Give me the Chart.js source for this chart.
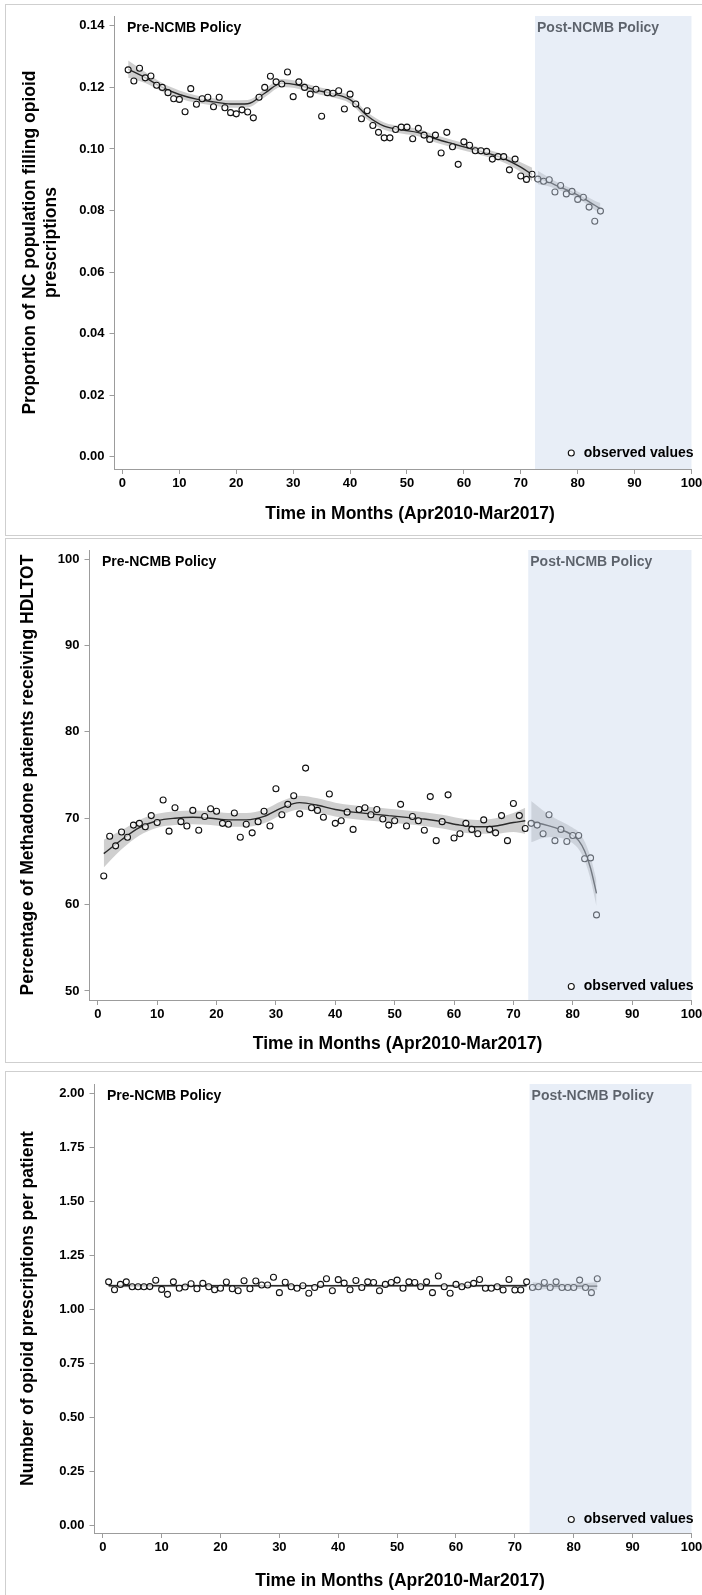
<!DOCTYPE html>
<html><head><meta charset="utf-8">
<script src="https://cdn.jsdelivr.net/npm/chart.js@4.4.1/dist/chart.umd.min.js"></script>
<style>
html,body{margin:0;padding:0;background:#fff;width:702px;height:1595px;overflow:hidden;}
canvas{position:absolute;left:0;}
.frame{position:absolute;left:5px;width:720px;border:1px solid #cfcfcf;pointer-events:none;}
</style></head><body>
<div class="frame" style="top:4px;height:530px"></div>
<div class="frame" style="top:538px;height:523px"></div>
<div class="frame" style="top:1071px;height:540px"></div>
<canvas id="c1" width="702" height="536" style="top:0;width:702px;height:536px"></canvas>
<canvas id="c2" width="702" height="530" style="top:536px;width:702px;height:530px"></canvas>
<canvas id="c3" width="702" height="529" style="top:1066px;width:702px;height:529px"></canvas>
<script>
// ---------- data ----------
const months = [1,2,3,4,5,6,7,8,9,10,11,12,13,14,15,16,17,18,19,20,21,22,23,24,25,26,27,28,29,30,
  31,32,33,34,35,36,37,38,39,40,41,42,43,44,45,46,47,48,49,50,51,52,53,54,55,56,57,58,59,60,
  61,62,63,64,65,66,67,68,69,70,71,72,73,74,75,76,77,78,79,80,81,82,83,84];

const propFilling = [0.1257,0.1221,0.1262,0.1231,0.1237,0.1207,0.1200,0.1183,0.1163,0.1161,
 0.1121,0.1196,0.1145,0.1163,0.1168,0.1137,0.1168,0.1134,0.1118,0.1114,
 0.1127,0.1120,0.1101,0.1168,0.1200,0.1236,0.1218,0.1211,0.1250,0.1170,
 0.1218,0.1200,0.1178,0.1194,0.1106,0.1183,0.1181,0.1189,0.1130,0.1178,
 0.1146,0.1098,0.1124,0.1076,0.1054,0.1036,0.1036,0.1063,0.1071,0.1071,
 0.1033,0.1067,0.1045,0.1031,0.1045,0.0987,0.1054,0.1007,0.0950,0.1023,
 0.1012,0.0994,0.0994,0.0992,0.0967,0.0975,0.0975,0.0932,0.0967,0.0912,
 0.0901,0.0918,0.0902,0.0895,0.0900,0.0860,0.0881,0.0854,0.0862,0.0836,
 0.0843,0.0811,0.0765,0.0798];

const pctHDLTOT = [63.3,67.9,66.8,68.4,67.8,69.2,69.4,69.0,70.3,69.5,
 72.1,68.5,71.2,69.6,69.1,70.9,68.6,70.2,71.1,70.8,
 69.4,69.3,70.6,67.8,69.3,68.3,69.6,70.8,69.1,73.4,
 70.4,71.6,72.6,70.5,75.8,71.2,70.9,70.1,72.8,69.4,
 69.7,70.7,68.7,71.0,71.2,70.4,71.0,69.9,69.2,69.7,
 71.6,69.1,70.2,69.7,68.6,72.5,67.4,69.6,72.7,67.7,
 68.2,69.4,68.7,68.2,69.8,68.7,68.3,70.3,67.4,71.7,
 70.3,68.8,69.4,69.2,68.2,70.4,67.4,68.7,67.3,68.0,
 68.0,65.3,65.4,58.8];

const rxPerPatient = [1.126,1.089,1.114,1.126,1.103,1.103,1.103,1.104,1.133,1.091,
 1.068,1.126,1.096,1.102,1.117,1.094,1.119,1.103,1.089,1.096,
 1.125,1.094,1.085,1.131,1.094,1.130,1.111,1.111,1.147,1.076,
 1.124,1.103,1.096,1.108,1.073,1.100,1.114,1.140,1.085,1.136,
 1.120,1.089,1.132,1.100,1.126,1.123,1.085,1.114,1.123,1.134,
 1.096,1.126,1.123,1.103,1.126,1.076,1.153,1.103,1.073,1.114,
 1.103,1.111,1.119,1.137,1.096,1.096,1.103,1.088,1.137,1.088,
 1.088,1.126,1.100,1.103,1.123,1.100,1.126,1.100,1.100,1.100,
 1.134,1.100,1.076,1.140];

// smoothed fit (loess) and confidence band, read at knot months
const preKnots = [1,4,7,10,13,16,19,22,25,28,31,34,37,40,43,46,49,52,55,58,61,64,67,70,72];

const propFitPre = [0.1259,0.1232,0.1200,0.1177,0.1162,0.1153,0.1146,0.1147,0.1181,0.1214,0.1207,0.1191,0.1179,0.1160,0.1108,0.1074,0.1062,0.1053,0.1033,0.1017,0.1002,0.0987,0.0969,0.0941,0.0917];
const propLoPre  = [0.1231,0.1214,0.1186,0.1164,0.1150,0.1141,0.1134,0.1135,0.1168,0.1201,0.1195,0.1179,0.1167,0.1148,0.1096,0.1062,0.1050,0.1041,0.1021,0.1005,0.0990,0.0975,0.0956,0.0925,0.0895];
const propHiPre  = [0.1287,0.1250,0.1214,0.1190,0.1174,0.1165,0.1158,0.1159,0.1194,0.1227,0.1219,0.1203,0.1191,0.1172,0.1120,0.1086,0.1074,0.1065,0.1045,0.1029,0.1014,0.0999,0.0982,0.0957,0.0939];
const propPostKnots = [73,75,77,79,81,83,84];
const propFitPost = [0.0907,0.0892,0.0875,0.0860,0.0840,0.0817,0.0806];
const propLoPost  = [0.0885,0.0878,0.0864,0.0849,0.0828,0.0802,0.0788];
const propHiPost  = [0.0929,0.0906,0.0886,0.0871,0.0852,0.0832,0.0824];

const pctFitPre = [65.9,67.5,68.9,69.7,70.0,70.1,70.0,69.8,69.8,70.2,71.2,71.8,71.5,71.0,70.7,70.5,70.3,70.1,69.9,69.6,69.2,69.0,69.1,69.5,69.7];
const pctLoPre  = [64.3,66.4,68.0,68.9,69.2,69.3,69.2,69.0,69.0,69.4,70.4,71.0,70.7,70.2,69.9,69.7,69.5,69.3,69.1,68.8,68.4,68.2,68.2,68.4,68.2];
const pctHiPre  = [67.5,68.6,69.8,70.5,70.8,70.9,70.8,70.6,70.6,71.0,72.0,72.6,72.3,71.8,71.5,71.3,71.1,70.9,70.7,70.4,70.0,69.8,70.0,70.6,71.2];
const pctPostKnots = [73,75,77,79,80,81,82,83,84];
const pctFitPost = [69.6,69.3,68.9,68.4,68.0,67.4,66.2,64.2,61.3];
const pctLoPost  = [67.2,67.7,67.8,67.5,67.1,66.4,65.1,62.9,59.8];
const pctHiPost  = [72.0,70.9,70.0,69.3,68.9,68.4,67.3,65.5,62.8];

const rxPreKnots = [1,36,72];
const rxFitPre = [1.108,1.108,1.108];
const rxLoPre  = [1.101,1.103,1.101];
const rxHiPre  = [1.115,1.113,1.115];
const rxPostKnots = [73,78,84];
const rxFitPost = [1.106,1.106,1.106];
const rxLoPost  = [1.088,1.095,1.088];
const rxHiPost  = [1.124,1.117,1.124];

// axis ticks
const xTicks = [0,10,20,30,40,50,60,70,80,90,100];
const propTicks = [0,0.02,0.04,0.06,0.08,0.10,0.12,0.14];
const pctTicks = [50,60,70,80,90,100];
const rxTicks = [0,0.25,0.5,0.75,1.0,1.25,1.5,1.75,2.0];
const policyStart = 72.5;
const xTitle = 'Time in Months (Apr2010-Mar2017)';

// ---------- drawing ----------
const FONT = '"Liberation Sans", Arial, Helvetica, sans-serif';
const pts = (xs, ys) => xs.map((x, i) => ({x, y: ys[i]}));

const decor = {
  id: 'decor',
  afterDatasetsDraw(chart, args, o) {
    const {ctx, chartArea: a, scales: {x}} = chart;
    const xs = x.getPixelForValue(policyStart);
    ctx.save();
    ctx.font = 'bold 14px ' + FONT;
    ctx.textBaseline = 'middle';
    ctx.textAlign = 'left';
    ctx.fillStyle = '#000';
    ctx.fillText('Post-NCMB Policy', xs + 2, a.top + 12);
    ctx.fillStyle = 'rgba(204,217,237,0.45)';
    ctx.fillRect(xs, a.top, a.right - xs, a.bottom - a.top);
    ctx.fillStyle = '#000';
    ctx.fillText('Pre-NCMB Policy', a.left + 12.5, a.top + 12);
    // legend
    ctx.textAlign = 'right';
    const ly = a.bottom - o.legendDy;
    const tx = a.right + 2;
    ctx.fillText('observed values', tx, ly);
    const w = ctx.measureText('observed values').width;
    ctx.beginPath();
    ctx.arc(tx - w - 12.5, ly, 3, 0, Math.PI * 2);
    ctx.fillStyle = '#fff';
    ctx.fill();
    ctx.lineWidth = 1.1;
    ctx.strokeStyle = '#111';
    ctx.stroke();
    // x axis title
    ctx.font = 'bold 17.5px ' + FONT;
    ctx.textAlign = 'center';
    ctx.fillStyle = '#000';
    ctx.fillText(xTitle, (a.left + a.right) / 2 + 7, o.xTitleY);
    ctx.restore();
  }
};

function build(id, o) {
  const band = 'rgba(135,135,135,0.40)';
  const lineC = '#2a2a2a';
  const fitLine = (data) => ({data, borderColor: lineC, borderWidth: 1.4, pointRadius: 0, fill: false, cubicInterpolationMode: 'monotone', order: 1});
  const edge = (data, fill) => ({data, borderColor: 'rgba(0,0,0,0)', borderWidth: 1, pointRadius: 0, fill: fill, backgroundColor: band, cubicInterpolationMode: 'monotone', order: 2});
  const datasets = [
    {data: pts(months, o.obs), showLine: false, pointRadius: 3, pointBorderWidth: 1.1, pointBorderColor: '#111', pointBackgroundColor: 'rgba(255,255,255,0.7)', order: 0},
    fitLine(pts(o.preX, o.fitPre)),
    fitLine(pts(o.postX, o.fitPost)),
    edge(pts(o.preX, o.loPre), false),
    edge(pts(o.preX, o.hiPre), '-1'),
    edge(pts(o.postX, o.loPost), false),
    edge(pts(o.postX, o.hiPost), '-1')
  ];
  const axisC = '#9c9c9c';
  const tickFont = {family: FONT, size: 13, weight: 'bold'};
  const titleFont = {family: FONT, size: 17.5, weight: 'bold'};
  return new Chart(document.getElementById(id), {
    type: 'line',
    data: {datasets},
    plugins: [decor],
    options: {
      responsive: false, animation: false, events: [],
      layout: {padding: {top: o.top, right: 702 - o.right, left: 0, bottom: 0}},
      plugins: {legend: {display: false}, tooltip: {enabled: false}, decor: {legendDy: o.legendDy, xTitleY: o.xTitleY}},
      scales: {
        x: {
          type: 'linear', min: -1.4, max: 100,
          afterBuildTicks: s => { s.ticks = xTicks.map(v => ({value: v})); },
          afterFit: s => { s.height = o.xH; s.paddingLeft = 0; s.paddingRight = 0; },
          grid: {drawOnChartArea: false, drawTicks: true, tickLength: 5, color: axisC},
          border: {display: true, color: axisC, width: 1},
          ticks: {font: tickFont, color: '#000', padding: 2, maxRotation: 0, autoSkip: false},
          title: {display: false}
        },
        y: {
          type: 'linear', min: o.ymin, max: o.ymax,
          afterBuildTicks: s => { s.ticks = o.yTicks.map(v => ({value: v})); },
          afterFit: s => { s.width = o.left; s.paddingTop = 0; s.paddingBottom = 0; },
          grid: {drawOnChartArea: false, drawTicks: true, tickLength: 5, color: axisC},
          border: {display: true, color: axisC, width: 1},
          ticks: {font: tickFont, color: '#000', padding: 5, autoSkip: false, callback: o.fmt},
          title: {display: true, text: o.yTitle, font: titleFont, color: '#000', padding: {top: o.yTitlePad, bottom: 0}}
        }
      }
    }
  });
}

build('c1', {
  obs: propFilling, preX: preKnots, fitPre: propFitPre, loPre: propLoPre, hiPre: propHiPre,
  postX: propPostKnots, fitPost: propFitPost, loPost: propLoPost, hiPost: propHiPost,
  yTicks: propTicks, ymin: -0.0040, ymax: 0.1432, fmt: v => Number(v).toFixed(2),
  yTitle: ['Proportion of NC population filling opioid', 'prescriptions'], yTitlePad: 20,
  top: 16, left: 114.5, right: 691.5, xH: 67, xTitleY: 514, legendDy: 16
});
build('c2', {
  obs: pctHDLTOT, preX: preKnots, fitPre: pctFitPre, loPre: pctLoPre, hiPre: pctHiPre,
  postX: pctPostKnots, fitPost: pctFitPost, loPost: pctLoPost, hiPost: pctHiPost,
  yTicks: pctTicks, ymin: 48.95, ymax: 101.05, fmt: v => String(v),
  yTitle: 'Percentage of Methadone patients receiving HDLTOT', yTitlePad: 17.5,
  top: 14, left: 89.5, right: 691.5, xH: 66, xTitleY: 508, legendDy: 13.5
});
build('c3', {
  obs: rxPerPatient, preX: rxPreKnots, fitPre: rxFitPre, loPre: rxLoPre, hiPre: rxHiPre,
  postX: rxPostKnots, fitPost: rxFitPost, loPost: rxLoPost, hiPost: rxHiPost,
  yTicks: rxTicks, ymin: -0.037, ymax: 2.042, fmt: v => Number(v).toFixed(2),
  yTitle: 'Number of opioid prescriptions per patient', yTitlePad: 17.5,
  top: 18, left: 94.5, right: 691.5, xH: 62, xTitleY: 515, legendDy: 13.5
});
</script>
</body></html>
